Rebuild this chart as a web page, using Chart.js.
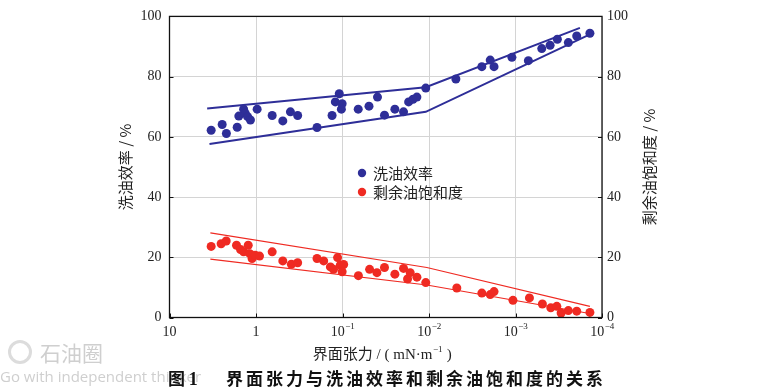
<!DOCTYPE html>
<html>
<head>
<meta charset="utf-8">
<script src="https://cdn.jsdelivr.net/npm/chart.js@4.4.0/dist/chart.umd.min.js"></script>
<style>
  html, body { margin: 0; padding: 0; background: #fff; }
  #wrap { position: relative; width: 775px; height: 388px; overflow: hidden; }
  #wrap canvas { position: absolute; left: 0; top: 0; }
  .wm { position: absolute; color: #cfcfcf; font-family: "Open Sans", "Noto Sans", sans-serif; white-space: nowrap; }
  .caption { position: absolute; top: 367px; font-family: "Noto Sans CJK SC", sans-serif; font-weight: bold; font-size: 17px; color: #111; white-space: nowrap; line-height: 22px; }
</style>
</head>
<body>
<div id="wrap">
  <canvas id="chart" width="775" height="388"></canvas>
  <div class="wm" style="left:8px; top:340px; width:24px; height:24px; border:3px solid #dcdcdc; border-radius:50%; box-sizing:border-box;"></div>
  <div class="wm" style="left:40px; top:337px; font-family:'Noto Sans CJK SC'; font-size:21px;">石油圈</div>
  <div class="wm" style="left:0px; top:366px; font-size:15px;">Go with independent thinker</div>
  <div class="caption" style="left:168px;">图 <span style="font-family:'Liberation Serif'; font-size:18px;">1</span></div>
  <div class="caption" style="left:226px; letter-spacing:3px;">界面张力与洗油效率和剩余油饱和度的关系</div>
</div>
<script>
// interfacial tension (mN/m) vs wash efficiency / remaining oil saturation
const washX = [3.30, 2.46, 2.20, 1.65, 1.58, 1.39, 1.33, 1.25, 1.16, 0.97, 0.65, 0.49, 0.40, 0.33,
  0.197, 0.132, 0.109, 0.121, 0.101, 0.103, 0.0658, 0.0494, 0.0394, 0.0327, 0.0248, 0.0197,
  0.0172, 0.0153, 0.0138, 0.0109, 0.00489, 0.00245, 0.00196, 0.00177, 0.00110, 0.00071,
  0.000497, 0.000398, 0.000328, 0.000245, 0.000196, 0.000138];
const washY = [62.2, 64.1, 61.1, 63.2, 66.9, 69.2, 67.8, 66.7, 65.6, 69.2, 67.1, 65.3, 68.3, 67.1,
  63.1, 67.1, 74.3, 71.6, 71.0, 69.2, 69.2, 70.2, 73.2, 67.2, 69.2, 68.3,
  71.6, 72.5, 73.2, 76.2, 79.2, 83.3, 85.5, 83.3, 86.4, 85.3,
  89.3, 90.4, 92.4, 91.3, 93.5, 94.4];

const soX = [3.30, 2.53, 2.21, 1.68, 1.51, 1.39, 1.23, 1.18, 1.11, 1.02, 0.91, 0.65, 0.49, 0.39,
  0.33, 0.197, 0.165, 0.138, 0.127, 0.114, 0.106, 0.097, 0.101, 0.0655, 0.0486, 0.040,
  0.0327, 0.0248, 0.0197, 0.0177, 0.0165, 0.0138, 0.0109, 0.00477, 0.00245, 0.00196,
  0.00177, 0.00107, 0.00069, 0.000489, 0.000391, 0.000333, 0.000297, 0.000245, 0.000196, 0.000138];
const soY = [23.6, 24.5, 25.4, 24.0, 22.6, 21.8, 24.0, 21.2, 19.6, 20.7, 20.4, 21.8, 18.8, 17.7,
  18.2, 19.6, 18.8, 16.8, 16.0, 19.9, 17.4, 17.6, 15.2, 13.9, 16.0, 14.9,
  16.6, 14.4, 16.3, 12.8, 14.9, 13.4, 11.6, 9.8, 8.1, 7.6,
  8.6, 5.7, 6.5, 4.5, 3.2, 3.7, 1.5, 2.3, 2.1, 1.7];

// envelope lines
const washUpX = [3.67, 0.0109, 0.00018];
const washUpY = [69.4, 76.5, 96.2];
const washLoX = [3.45, 0.0109, 0.000138];
const washLoY = [57.6, 68.3, 94.0];
const soUpX = [3.37, 0.0106, 0.000138];
const soUpY = [28.1, 16.6, 3.7];
const soLoX = [3.37, 0.0106, 0.00015];
const soLoY = [19.4, 10.8, 1.5];

const xTicks = [10, 1, 0.1, 0.01, 0.001, 0.0001];
const xTickExp = ["", "", "-1", "-2", "-3", "-4"];
const xTickBase = ["10", "1", "10", "10", "10", "10"];
const yTicks = [0, 20, 40, 60, 80, 100];

const BLUE = "#2e2e98";
const RED = "#ef2a22";
const SERIF = "'Liberation Serif', 'DejaVu Serif', serif";
const CJK = "'Noto Sans CJK SC', sans-serif";

const zip = (xs, ys) => xs.map((x, i) => ({ x: x, y: ys[i] }));

const lineSet = (label, xs, ys, color, w) => ({
  label: label,
  data: zip(xs, ys),
  showLine: true,
  borderColor: color,
  borderWidth: w,
  pointRadius: 0,
  fill: false,
  isEnvelope: true,
});

const extras = {
  id: "extras",
  afterDraw(chart) {
    const ctx = chart.ctx;
    const a = chart.chartArea;
    const xs = chart.scales.x;
    const yl = chart.scales.y;
    ctx.save();

    // box
    ctx.strokeStyle = "#111";
    ctx.lineWidth = 1.3;
    ctx.strokeRect(a.left, a.top, a.right - a.left, a.bottom - a.top);

    // inner tick marks
    ctx.lineWidth = 1;
    yTicks.forEach((v) => {
      const py = Math.round(yl.getPixelForValue(v)) + 0.5;
      ctx.beginPath();
      ctx.moveTo(a.left, py); ctx.lineTo(a.left + 4, py);
      ctx.moveTo(a.right, py); ctx.lineTo(a.right - 4, py);
      ctx.stroke();
    });
    xTicks.forEach((v) => {
      const px = Math.round(xs.getPixelForValue(v)) + 0.5;
      ctx.beginPath();
      ctx.moveTo(px, a.bottom); ctx.lineTo(px, a.bottom - 4);
      ctx.stroke();
    });

    // x tick labels with superscripts
    ctx.fillStyle = "#222";
    ctx.textBaseline = "alphabetic";
    xTicks.forEach((v, i) => {
      const px = xs.getPixelForValue(v);
      ctx.font = "14px " + SERIF;
      const wb = ctx.measureText(xTickBase[i]).width;
      ctx.font = "9px " + SERIF;
      const sup = xTickExp[i] ? xTickExp[i].replace("-", "\u2212") : "";
      const we = sup ? ctx.measureText(sup).width : 0;
      const x0 = px - (wb + we) / 2;
      ctx.font = "14px " + SERIF;
      ctx.textAlign = "left";
      ctx.fillText(xTickBase[i], x0, a.bottom + 18);
      if (sup) {
        ctx.font = "9px " + SERIF;
        ctx.fillText(sup, x0 + wb + 0.5, a.bottom + 11);
      }
    });

    // x axis title
    const cx = (a.left + a.right) / 2 - 4;
    const ty = a.bottom + 41;
    const p1 = "界面张力 / ( mN·m";
    const p2 = "\u22121";
    const p3 = " )";
    ctx.font = "15px " + SERIF + ", " + CJK;
    const w1 = ctx.measureText(p1).width;
    const w3 = ctx.measureText(p3).width;
    ctx.font = "9px " + SERIF;
    const w2 = ctx.measureText(p2).width;
    let x0 = cx - (w1 + w2 + w3) / 2;
    ctx.font = "15px " + SERIF + ", " + CJK;
    ctx.fillText(p1, x0, ty);
    ctx.font = "9px " + SERIF;
    ctx.fillText(p2, x0 + w1 + 0.5, ty - 7);
    ctx.font = "15px " + SERIF + ", " + CJK;
    ctx.fillText(p3, x0 + w1 + w2 + 1, ty);

    // y axis titles
    const midY = (a.top + a.bottom) / 2;
    [[125, "洗油效率 / %"], [649, "剩余油饱和度 / %"]].forEach(([px, txt]) => {
      ctx.save();
      ctx.translate(px, midY);
      ctx.rotate(-Math.PI / 2);
      ctx.textAlign = "center";
      ctx.textBaseline = "middle";
      ctx.font = "15px " + CJK;
      ctx.fillStyle = "#222";
      ctx.fillText(txt, 0, 0);
      ctx.restore();
    });

    // legend inside plot
    const items = chart.data.datasets.filter((d) => !d.isEnvelope);
    items.forEach((d, i) => {
      const ly = 173 + i * 19;
      ctx.beginPath();
      ctx.fillStyle = d.backgroundColor;
      ctx.arc(362, ly, 4.2, 0, Math.PI * 2);
      ctx.fill();
      ctx.fillStyle = "#222";
      ctx.font = "15px " + CJK;
      ctx.textAlign = "left";
      ctx.textBaseline = "middle";
      ctx.fillText(d.label, 373, ly);
    });
    ctx.restore();
  },
};

new Chart(document.getElementById("chart"), {
  type: "scatter",
  data: {
    datasets: [
      {
        label: "洗油效率",
        data: zip(washX, washY),
        backgroundColor: BLUE,
        borderWidth: 0,
        pointRadius: 4.5,
        pointHoverRadius: 4.5,
      },
      {
        label: "剩余油饱和度",
        data: zip(soX, soY),
        backgroundColor: RED,
        borderWidth: 0,
        pointRadius: 4.5,
        pointHoverRadius: 4.5,
      },
      lineSet("wash upper", washUpX, washUpY, BLUE, 2),
      lineSet("wash lower", washLoX, washLoY, BLUE, 2),
      lineSet("so upper", soUpX, soUpY, RED, 1.2),
      lineSet("so lower", soLoX, soLoY, RED, 1.2),
    ],
  },
  options: {
    responsive: false,
    animation: false,
    events: [],
    layout: { padding: { top: 12.5, left: 0, right: 0, bottom: 0 } },
    plugins: { legend: { display: false }, tooltip: { enabled: false } },
    scales: {
      x: {
        type: "logarithmic",
        reverse: true,
        min: 0.0001,
        max: 10,
        afterBuildTicks: (s) => { s.ticks = xTicks.map((v) => ({ value: v })); },
        afterFit: (s) => { s.height = 70.5; },
        ticks: { display: false },
        grid: { color: "#d4d4d4", lineWidth: 1, drawTicks: false },
        border: { display: false },
      },
      y: {
        position: "left",
        min: 0,
        max: 100,
        afterBuildTicks: (s) => { s.ticks = yTicks.map((v) => ({ value: v })); },
        afterFit: (s) => { s.width = 169.5; },
        ticks: { font: { family: SERIF, size: 14 }, color: "#222", padding: 8 },
        grid: { color: "#d4d4d4", lineWidth: 1, drawTicks: false },
        border: { display: false },
      },
      y2: {
        position: "right",
        min: 0,
        max: 100,
        afterBuildTicks: (s) => { s.ticks = yTicks.map((v) => ({ value: v })); },
        afterFit: (s) => { s.width = 173; },
        ticks: { font: { family: SERIF, size: 14 }, color: "#222", padding: 5 },
        grid: { display: false, drawTicks: false },
        border: { display: false },
      },
    },
  },
  plugins: [extras],
});
</script>
</body>
</html>
